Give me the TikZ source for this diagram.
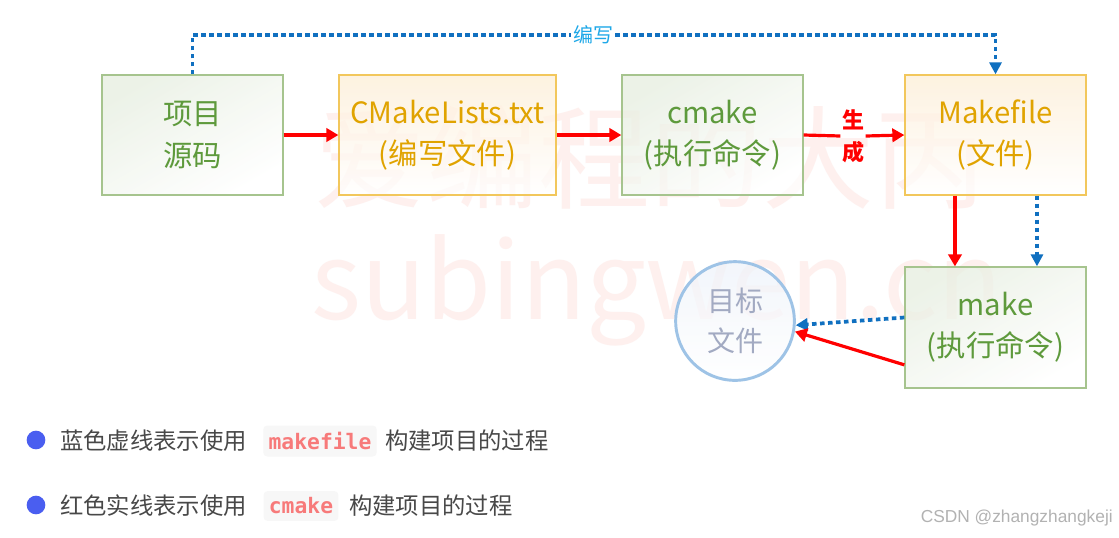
\documentclass[tikz,border=0pt]{standalone}
\usepackage{fontspec}
\setmainfont{Noto Sans CJK SC}
\newfontfamily\codefont{DejaVu Sans Mono}
\newfontfamily\csdnfont{Liberation Sans}
\usetikzlibrary{arrows.meta,calc}
\definecolor{gborder}{HTML}{A6C48E}
\definecolor{gtext}{HTML}{5E9A3C}
\definecolor{gfill}{HTML}{E6EEE0}
\definecolor{oborder}{HTML}{F2C75C}
\definecolor{otext}{HTML}{E0A300}
\definecolor{ofill}{HTML}{FDEED6}
\definecolor{cborder}{HTML}{9EC3E6}
\definecolor{ctext}{HTML}{A2AAC2}
\definecolor{cfill}{HTML}{EEF3FA}
\definecolor{ared}{HTML}{FF0000}
\definecolor{ablue}{HTML}{1070C0}
\definecolor{lblblue}{HTML}{1EA8E8}
\definecolor{btext}{HTML}{484848}
\definecolor{bullet}{HTML}{4A5EF0}
\definecolor{codecol}{HTML}{F77A7A}
\definecolor{chip}{HTML}{F7F7F7}
\definecolor{wmcol}{HTML}{FEF0EE}
\tikzset{
  gbox/.style={draw=gborder, line width=1pt, top color=gfill, bottom color=white, shading angle=30,
    fill opacity=0.75, text opacity=1, draw opacity=1,
    text=gtext, align=center, minimum height=90pt, inner sep=0pt,
    font=\fontsize{22}{31}\selectfont},
  obox/.style={gbox, draw=oborder, top color=ofill, text=otext},
  tcirc/.style={circle, draw=cborder, line width=2.2pt, top color=cfill, bottom color=white,
    fill opacity=0.75, text opacity=1, draw opacity=1,
    text=ctext, align=center, minimum size=89pt, inner sep=0pt,
    font=\fontsize{21}{30}\selectfont},
  redarr/.style={draw=ared, line width=2.4pt, -{Triangle[length=9pt,width=10pt]}},
  redline/.style={draw=ared, line width=2.4pt},
  bluearr/.style={draw=ablue, line width=2.8pt, dash pattern=on 3.4pt off 2.6pt, -{Triangle[length=9pt,width=9pt]}},
  blueline/.style={draw=ablue, line width=2.8pt, dash pattern=on 3.4pt off 2.6pt},
  btxt/.style={text=btext, anchor=west, inner sep=0pt, font=\fontsize{17.5}{20}\selectfont},
  codechip/.style={fill=chip, rounded corners=3pt, text=codecol, inner xsep=4pt, inner ysep=5pt,
    font=\fontsize{16}{18}\codefont\bfseries},
  dot/.style={circle, fill=bullet, minimum size=14pt, inner sep=0pt},
  wmark/.style={text=wmcol, inner sep=0pt}
}
\begin{document}
\begin{tikzpicture}[x=0.75pt,y=-0.75pt]
\useasboundingbox (0,0) rectangle (1119,537);
\fill[white] (0,0) rectangle (1119,537);
% watermark
\node[wmark, font=\fontsize{84}{90}\selectfont] (wm1) at (650,158) {爱编程的大丙};
\node[wmark, font=\fontsize{80}{90}\selectfont] (wm2) at (657,290) {subingwen.cn};
% boxes
\node[gbox, minimum width=135.75pt] (src) at (192.5,135) {项目\\源码};
\node[obox, minimum width=162.75pt] (cml) at (447.5,135) {CMakeLists.txt\\(编写文件)};
\node[gbox, minimum width=135.75pt] (cmk) at (712.5,135) {cmake\\(执行命令)};
\node[obox, minimum width=135.75pt] (mkf) at (995.5,135) {Makefile\\(文件)};
\node[gbox, minimum width=135.75pt, minimum height=90.75pt] (mk) at (995.5,327.5) {make\\(执行命令)};
\node[tcirc] (tgt) at (735,321) {目标\\文件};
% labels
\node[fill=white, inner sep=1.5pt, text=lblblue, font=\fontsize{15}{18}\selectfont] (bx) at (593,35) {编写};
\node[inner sep=1pt, text=ared, align=center, font=\fontsize{16.5}{24}\selectfont\bfseries] (sc) at (853,136) {生\\成};
% connectors
\draw[redarr] (src) -- (cml);
\draw[redarr] (cml) -- (cmk);
\draw[redline] (cmk.east) -- (sc.west);
\draw[redarr] (sc.east) -- (mkf.west);
\draw[blueline] (src.north) |- (bx.west);
\draw[bluearr] (bx.east) -| (mkf.north);
\draw[redarr] ([xshift=-30.4pt]mkf.south) -- ([xshift=-30.4pt]mk.north);
\draw[bluearr] ([xshift=31.1pt]mkf.south) -- ([xshift=31.1pt]mk.north);
\draw[bluearr] ([yshift=7.5pt]mk.west) -- (tgt.-4);
\draw[redarr] ([yshift=-28pt]mk.west) -- (tgt.-10);
% legend
\node[dot] (d1) at (36,440) {};
\node[btxt] (t1) at (60,441) {蓝色虚线表示使用};
\node[codechip] (c1) at (320,441) {makefile};
\node[btxt] (t1b) at (385,441) {构建项目的过程};
\node[dot] (d2) at (36,505) {};
\node[btxt] (t2) at (60,506) {红色实线表示使用};
\node[codechip] (c2) at (301,506) {cmake};
\node[btxt] (t2b) at (349,506) {构建项目的过程};
\node[anchor=south east, inner sep=0pt, text=black!30, font=\fontsize{13}{15}\csdnfont] (csdn) at (1113,526) {CSDN @zhangzhangkeji};
\end{tikzpicture}
\end{document}
